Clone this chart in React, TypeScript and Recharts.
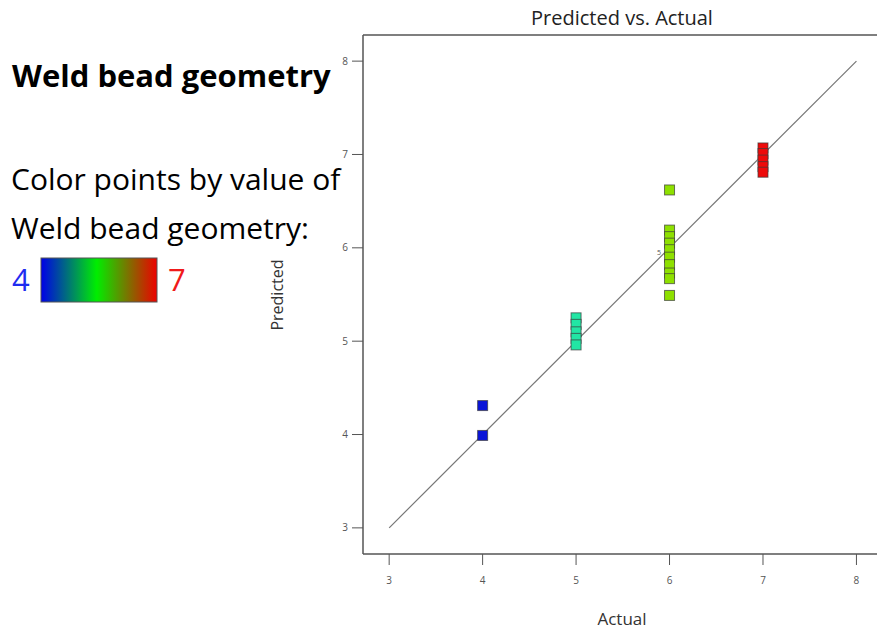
import React from "react";
import {
  ScatterChart,
  Scatter,
  XAxis,
  YAxis,
  ReferenceLine,
} from "recharts";

const xTicks = [3, 4, 5, 6, 7, 8];
const yTicks = [3, 4, 5, 6, 7, 8];

const actual4 = [4.31, 3.99];
const actual5 = [5.25, 5.18, 5.1, 5.03, 4.96];
const actual6 = [6.62, 6.19, 6.12, 6.05, 5.98, 5.9, 5.82, 5.73, 5.67, 5.49];
const actual7 = [7.07, 7.01, 6.94, 6.87, 6.81];

const groups = [
  { actual: 4, values: actual4, color: "#0a14d8" },
  { actual: 5, values: actual5, color: "#22e6a4" },
  { actual: 6, values: actual6, color: "#8ee000" },
  { actual: 7, values: actual7, color: "#ee0a0a" },
];

const fitLine = [
  { x: 3, y: 3 },
  { x: 8, y: 8 },
];

const X_DOMAIN: [number, number] = [2.72, 8.22];
const Y_DOMAIN: [number, number] = [2.72, 8.28];

const Square = (props: any) => {
  const { cx, cy, fill } = props;
  if (cx == null || cy == null) return null;
  const s = 10;
  return (
    <rect
      x={cx - s / 2}
      y={cy - s / 2}
      width={s}
      height={s}
      fill={fill}
      stroke="#3a3a3a"
      strokeOpacity={0.7}
      strokeWidth={1}
    />
  );
};

const textFont = "'Open Sans', 'Noto Sans', sans-serif";

export default function App() {
  return (
    <div style={{ position: "absolute", left: 0, top: 0, width: 877, height: 633, background: "#fff" }}>
      <svg width={877} height={633} style={{ position: "absolute", left: 0, top: 0 }} fontFamily={textFont}>
        <defs>
          <linearGradient id="scaleGrad" x1="0" y1="0" x2="1" y2="0">
            <stop offset="0%" stopColor="#0000e8" />
            <stop offset="48%" stopColor="#00ee00" />
            <stop offset="100%" stopColor="#ee0000" />
          </linearGradient>
        </defs>
        <text x={12} y={87} fontSize={31} fontWeight={700} fill="#000">Weld bead geometry</text>
        <text x={11} y={190} fontSize={30} fill="#000">Color points by value of</text>
        <text x={11} y={239} fontSize={30} fill="#000">Weld bead geometry:</text>
        <text x={12} y={291} fontSize={31} fill="#1f2cf0">4</text>
        <rect x={41} y={258} width={116} height={44} fill="url(#scaleGrad)" stroke="#555" strokeWidth={1} />
        <text x={168} y={291} fontSize={31} fill="#f01a1a">7</text>
      </svg>

      <ScatterChart
        width={877}
        height={633}
        margin={{ top: 35, right: 0, bottom: 39, left: 333 }}
        style={{ position: "absolute", left: 0, top: 0 }}
      >
        <text x={622} y={25} textAnchor="middle" fontSize={20} fill="#222" fontFamily={textFont}>
          Predicted vs. Actual
        </text>
        <XAxis
          type="number"
          dataKey="x"
          domain={X_DOMAIN}
          ticks={xTicks}
          allowDataOverflow
          stroke="#555"
          strokeWidth={1.5}
          tickSize={11}
          tickMargin={12}
          tick={{ fontSize: 10, fill: "#555", fontFamily: textFont }}
          tickLine={{ stroke: "#555", strokeWidth: 1 }}
          height={40}
        />
        <YAxis
          type="number"
          dataKey="y"
          domain={Y_DOMAIN}
          ticks={yTicks}
          allowDataOverflow
          stroke="#555"
          strokeWidth={1.5}
          tickSize={11}
          tickMargin={4}
          width={30}
          tick={{ fontSize: 10, fill: "#555", fontFamily: textFont }}
          tickLine={{ stroke: "#555", strokeWidth: 1 }}
        />
        <ReferenceLine y={Y_DOMAIN[1]} stroke="#555" strokeWidth={1.5} />
        <ReferenceLine segment={fitLine} stroke="#777" strokeWidth={1.2} />
        {groups.map((g) => (
          <Scatter
            key={g.actual}
            data={g.values.map((v) => ({ x: g.actual, y: v }))}
            fill={g.color}
            shape={<Square />}
            isAnimationActive={false}
          />
        ))}
        <text x={657} y={255} fontSize={7} fill="#555" fontFamily={textFont}>5</text>
        <text x={622} y={625} textAnchor="middle" fontSize={17} fill="#333" fontFamily={textFont}>
          Actual
        </text>
        <text
          x={283}
          y={295}
          transform="rotate(-90 283 295)"
          textAnchor="middle"
          fontSize={16}
          fill="#333"
          fontFamily={textFont}
        >
          Predicted
        </text>
      </ScatterChart>
    </div>
  );
}
